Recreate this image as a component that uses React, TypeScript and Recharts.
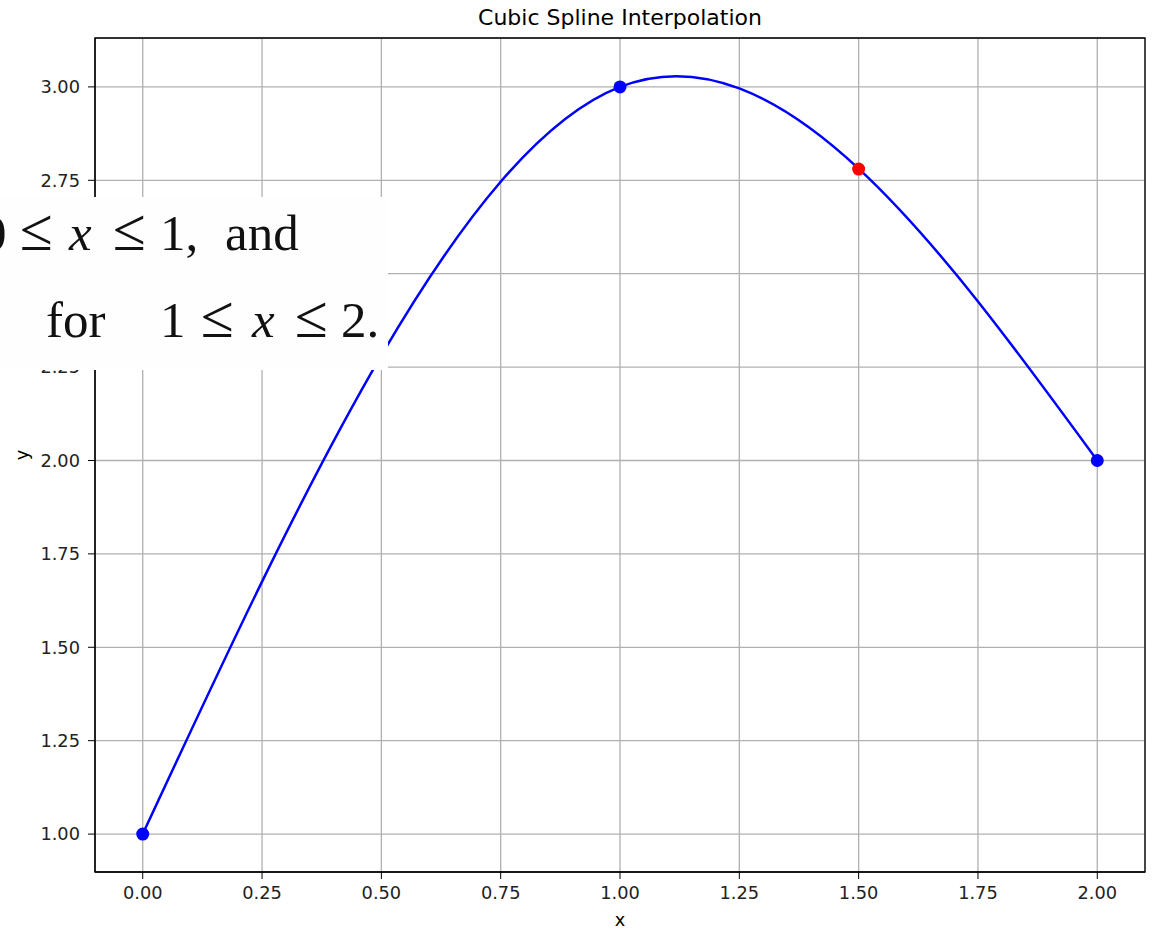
import React from 'react';
import {
  ComposedChart,
  Line,
  Scatter,
  XAxis,
  YAxis,
  CartesianGrid,
  ReferenceArea,
  Label,
} from 'recharts';

// knots of the spline (drawn with d3's natural cubic curve)
const knotX = [0, 1, 2];
const knotY = [1, 3, 2];
// evaluated point shown in red
const evalX = [1.5];
const evalY = [2.78];

const xTicks = [0, 0.25, 0.5, 0.75, 1, 1.25, 1.5, 1.75, 2];
const yTicks = [1, 1.25, 1.5, 1.75, 2, 2.25, 2.5, 2.75, 3];
const xDomain: [number, number] = [-0.1, 2.1];
const yDomain: [number, number] = [0.8985, 3.1309];

const knots = knotX.map((x, i) => ({ x, y: knotY[i] }));
const evalPoints = evalX.map((x, i) => ({ x, y: evalY[i] }));

const FONT = '"DejaVu Sans", sans-serif';
const tickStyle = { fill: '#222', fontSize: 17.8, fontFamily: FONT };

const fmt = (v: number) => v.toFixed(2);

const App: React.FC = () => {
  return (
    <div style={{ position: 'relative', width: 1153, height: 929, background: '#fff' }}>
      <style>{'body{margin:0}'}</style>
      <div
        style={{
          position: 'absolute',
          left: 95,
          width: 1050,
          top: 5,
          textAlign: 'center',
          fontFamily: FONT,
          fontSize: 22,
          color: '#000',
        }}
      >
        Cubic Spline Interpolation
      </div>
      <ComposedChart
        width={1153}
        height={929}
        margin={{ top: 38, right: 8, bottom: 0, left: 0 }}
      >
        <CartesianGrid stroke="#b0b0b0" strokeWidth={1.3} />
        <XAxis
          type="number"
          dataKey="x"
          domain={xDomain}
          allowDataOverflow
          ticks={xTicks}
          tickFormatter={fmt}
          height={57}
          tick={tickStyle}
          tickSize={7}
          tickMargin={7}
          stroke="#000"
        >
          <Label value="x" position="insideBottom" offset={3} fill="#000" fontSize={17.8} fontFamily={FONT} />
        </XAxis>
        <YAxis
          type="number"
          dataKey="y"
          domain={yDomain}
          allowDataOverflow
          ticks={yTicks}
          tickFormatter={fmt}
          width={95}
          tick={tickStyle}
          tickSize={7}
          tickMargin={8}
          stroke="#000"
        >
          <Label
            value="y"
            position="insideLeft"
            angle={-90}
            offset={22}
            textAnchor="middle"
            fill="#000"
            fontSize={17.8}
            fontFamily={FONT}
          />
        </YAxis>
        <ReferenceArea
          x1={xDomain[0]}
          x2={xDomain[1]}
          y1={yDomain[0]}
          y2={yDomain[1]}
          fill="none"
          fillOpacity={0}
          stroke="#000"
          strokeWidth={1.3}
          ifOverflow="visible"
        />
        <Line
          data={knots}
          dataKey="y"
          type="natural"
          stroke="#0000ff"
          strokeWidth={2.5}
          dot={{ r: 6.5, fill: '#0000ff', stroke: 'none' }}
          activeDot={false}
          isAnimationActive={false}
        />
        <Scatter
          data={evalPoints}
          dataKey="y"
          fill="#ff0000"
          shape={(p: any) => <circle cx={p.cx} cy={p.cy} r={6.5} fill="#ff0000" />}
          isAnimationActive={false}
        />
      </ComposedChart>
      <svg
        width={388}
        height={173}
        style={{ position: 'absolute', left: 0, top: 197 }}
        fontFamily='"Liberation Serif", "Times New Roman", serif'
        fontSize={51}
        fill="#111"
      >
        <rect x={0} y={0} width={388} height={173} fill="#fefefe" />
        <text x={-19} y={53}>0</text>
        <text x={20} y={53} fontSize={60}>≤</text>
        <text x={69} y={53} fontStyle="italic">x</text>
        <text x={113} y={53} fontSize={60}>≤</text>
        <text x={160} y={53}>1,</text>
        <text x={225} y={53}>and</text>
        <text x={46} y={140}>for</text>
        <text x={160} y={140}>1</text>
        <text x={201} y={140} fontSize={60}>≤</text>
        <text x={252} y={140} fontStyle="italic">x</text>
        <text x={295} y={140} fontSize={60}>≤</text>
        <text x={341} y={140}>2.</text>
      </svg>
    </div>
  );
};

export default App;
